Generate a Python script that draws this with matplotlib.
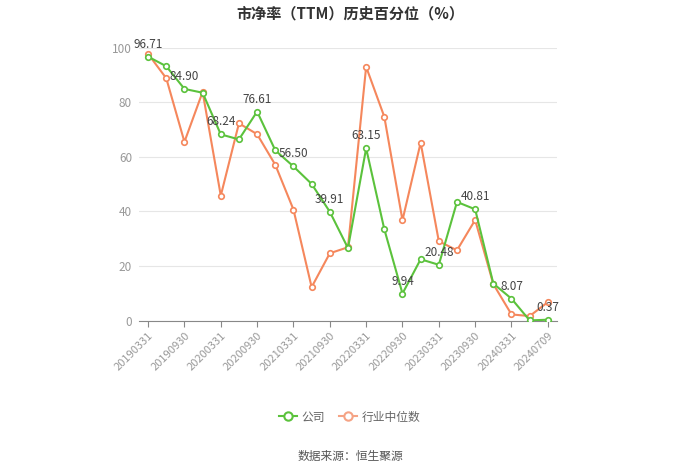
import matplotlib
matplotlib.use('Agg')
import matplotlib.pyplot as plt
from matplotlib.lines import Line2D

plt.rcParams['font.family'] = ['Noto Sans CJK SC', 'DejaVu Sans']

# quarterly report dates, plus latest
dates = ['20190331', '20190630', '20190930', '20191231',
         '20200331', '20200630', '20200930', '20201231',
         '20210331', '20210630', '20210930', '20211231',
         '20220331', '20220630', '20220930', '20221231',
         '20230331', '20230630', '20230930', '20231231',
         '20240331', '20240630', '20240709']

company = [96.71, 93.2, 84.90, 83.5, 68.24, 66.4, 76.61, 62.4, 56.50, 50.1,
           39.91, 26.6, 63.15, 33.5, 9.94, 22.5, 20.48, 43.5, 40.81, 13.6,
           8.07, 0.1, 0.37]
industry = [97.7, 88.8, 65.5, 83.8, 45.8, 72.3, 68.3, 57.1, 40.7, 12.3,
            24.7, 26.9, 93.0, 74.7, 36.8, 65.2, 29.1, 25.8, 36.9, 13.4,
            2.3, 1.7, 6.8]

green = '#5bc23c'
orange = '#f5875c'

fig = plt.figure(figsize=(7, 4.74), dpi=100)
ax = fig.add_axes([0.1986, 0.3234, 0.597, 0.576])

x = list(range(len(dates)))
ax.plot(x, industry, color=orange, lw=1.5, marker='o', ms=4,
        mfc='white', mec=orange, mew=1.2, zorder=3)
ax.plot(x, company, color=green, lw=1.5, marker='o', ms=4,
        mfc='white', mec=green, mew=1.2, zorder=4)

# value labels on every other company point
for i in range(0, len(dates), 2):
    ax.annotate(f'{company[i]:.2f}', (i, company[i]), xytext=(0, 9),
                textcoords='offset points', ha='center', va='center',
                fontsize=8.5, color='#444444', zorder=5)

ax.set_xlim(-0.5, len(dates) - 0.5)
ax.set_ylim(0, 100)
ax.set_yticks([0, 20, 40, 60, 80, 100])
ax.set_xticks(x[::2])
ax.set_xticklabels(dates[::2], rotation=45, ha='right', rotation_mode='anchor',
                   fontsize=8, color='#999999')
ax.tick_params(axis='x', length=4, color='#888888', pad=3)
ax.tick_params(axis='y', length=0, labelsize=8.5, labelcolor='#999999', pad=5)
ax.grid(axis='y', color='#e6e6e6', lw=0.8)
ax.set_axisbelow(True)
for s in ['top', 'right', 'left']:
    ax.spines[s].set_visible(False)
ax.spines['bottom'].set_color('#888888')

fig.text(0.5, 0.972, '市净率（TTM）历史百分位（%）', ha='center', va='center',
         fontsize=10.9, fontweight='bold', color='#333333')

handles = [Line2D([0], [0], color=green, lw=1.5, marker='o', ms=6, mfc='white', mec=green, mew=1.5),
           Line2D([0], [0], color='#f5a385', lw=1.5, marker='o', ms=6, mfc='white', mec='#f5a385', mew=1.5)]
fig.legend(handles, ['公司', '行业中位数'], loc='center', bbox_to_anchor=(0.5, 0.12),
           ncol=2, frameon=False, fontsize=8.5, labelcolor='#666666',
           handlelength=1.5, columnspacing=1.2, handletextpad=0.4)

fig.text(0.5, 0.036, '数据来源：恒生聚源', ha='center', va='center',
         fontsize=8.5, color='#555555')

fig.savefig('out.png', dpi=100)
